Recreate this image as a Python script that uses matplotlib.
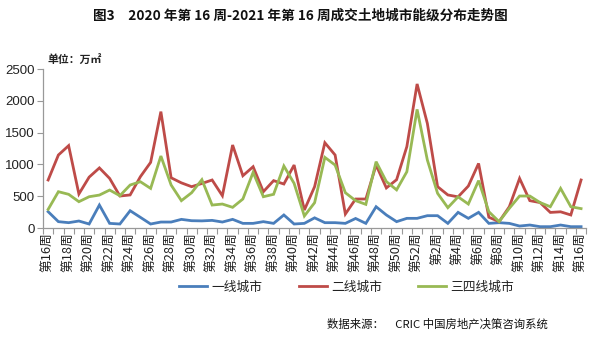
import matplotlib
matplotlib.use("Agg")
import matplotlib.pyplot as plt
from matplotlib.ticker import FixedLocator

plt.rcParams['font.family'] = ['Noto Sans CJK SC', 'DejaVu Sans']

weeks = list(range(16, 53)) + list(range(1, 17))
week_labels = [f"第{w}周" for w in weeks]

tier1 = [257, 100, 84, 110, 63, 361, 73, 63, 272, 168, 63, 94, 94, 136, 115,
         112, 120, 94, 136, 73, 73, 100, 73, 205, 63, 73, 160, 84, 84, 73,
         150, 73, 335, 205, 100, 152, 152, 194, 194, 73, 246, 152, 246, 73,
         84, 73, 31, 47, 21, 21, 47, 21, 21]
tier2 = [755, 1148, 1295, 535, 800, 945, 780, 503, 520, 807, 1032, 1830, 790, 710, 650,
         700, 755, 508, 1305, 822, 964, 571, 745, 692, 990, 283, 650, 1341, 1148, 220,
         456, 456, 990, 630, 760, 1280, 2265, 1645, 650, 520, 490, 660, 1015, 170,
         100, 335, 780, 430, 400, 245, 255, 205, 755]
tier34 = [293, 571, 530, 414, 492, 518, 597, 508, 676, 728, 623, 1132, 676, 430, 555,
          760, 361, 377, 325, 456, 875, 492, 530, 975, 702, 189, 398, 1111, 990, 555,
          430, 372, 1043, 730, 600, 885, 1865, 1070, 545, 320, 490, 377, 745, 257,
          100, 310, 503, 503, 400, 335, 623, 335, 305]

series_names = ["一线城市", "二线城市", "三四线城市"]
colors = ["#4A7EBB", "#BE4B48", "#98B954"]

fig = plt.figure(figsize=(6.0, 3.37), dpi=100)
ax = fig.add_axes([0.0717, 0.3234, 0.9053, 0.4718])

x = list(range(len(weeks)))
for vals, name, c in zip([tier1, tier2, tier34], series_names, colors):
    ax.plot(x, vals, color=c, lw=2.0, label=name, solid_joinstyle='miter')

ax.set_xlim(-0.5, len(weeks) - 0.5)
ax.set_ylim(0, 2500)
ax.set_yticks([0, 500, 1000, 1500, 2000, 2500])
ax.set_yticklabels(["0", "500", "1000", "1500", "2000", "2500"],
                   fontsize=9.5, family=['Liberation Sans', 'DejaVu Sans'], color='#222222')

ax.set_xticks(x[::2])
ax.set_xticklabels(week_labels[::2], rotation=90, fontsize=9.2, color='#222222')
ax.xaxis.set_minor_locator(FixedLocator([i - 0.5 for i in range(len(weeks) + 1)]))
ax.tick_params(axis='x', which='major', length=0, pad=3)
ax.tick_params(axis='x', which='minor', length=4, color='#999999', width=0.8)
ax.tick_params(axis='y', length=4, color='#999999', width=0.8, pad=2)

for s in ['top', 'right']:
    ax.spines[s].set_visible(False)
for s in ['left', 'bottom']:
    ax.spines[s].set_color('#999999')
    ax.spines[s].set_linewidth(0.9)

fig.text(0.5, 0.952, "图3　2020 年第 16 周-2021 年第 16 周成交土地城市能级分布走势图",
         ha='center', va='center', fontsize=9.8, fontweight='bold', color='#111111')
fig.text(0.08, 0.822, "单位：万㎡", ha='left', va='center', fontsize=7.8,
         fontweight='bold', color='#222222')

leg = fig.legend(loc='center', bbox_to_anchor=(0.578, 0.148), ncol=3, frameon=False,
                 fontsize=9.2, handlelength=2.2, columnspacing=2.8, handletextpad=0.35)
for t in leg.get_texts():
    t.set_color('#222222')

fig.text(0.545, 0.038, "数据来源：　CRIC 中国房地产决策咨询系统", ha='left', va='center',
         fontsize=8.2, color='#111111')

fig.savefig("out.png", dpi=100)
